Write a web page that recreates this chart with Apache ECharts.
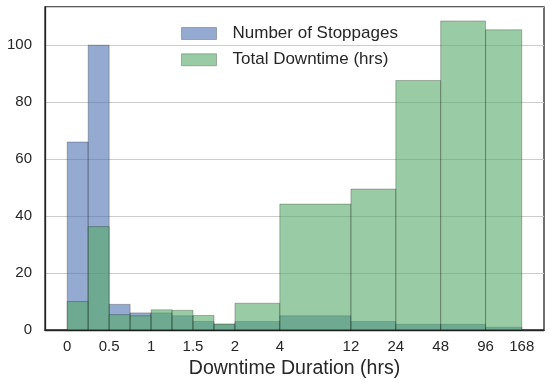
<!DOCTYPE html>
<html>
<head>
<meta charset="utf-8">
<script src="https://cdn.jsdelivr.net/npm/echarts@6/dist/echarts.min.js"></script>
<style>
html,body{margin:0;padding:0;background:#fff;}
#chart{width:550px;height:384px;}
</style>
</head>
<body>
<div id="chart"></div>
<script>
// Bin edges in hours
const binEdges = [0, 0.25, 0.5, 0.75, 1, 1.25, 1.5, 1.75, 2, 4, 12, 24, 48, 96, 168];
// Number of stoppages per bin
const stoppages = [66, 100, 9, 6, 6, 5, 3, 2, 3, 5, 3, 2, 2, 1];
// Total downtime (hrs) per bin
const downtime = [10, 36.3, 5.4, 5, 7.1, 6.9, 5.1, 2.1, 9.4, 44.2, 49.5, 87.6, 108.5, 105.4];
// Tick positions (hours) and labels
const tickHours = [0, 0.5, 1, 1.5, 2, 4, 12, 24, 48, 96, 168];
const tickLabels = ['0', '0.5', '1', '1.5', '2', '4', '12', '24', '48', '96', '168'];
const seriesNames = ['Number of Stoppages', 'Total Downtime (hrs)'];

// Axis scale: linear up to 2 h, log2 beyond
function scaleHours(h) {
  return h <= 2 ? h * 2 : 4 + Math.log2(h / 2) * 1.07;
}

function binData(values) {
  return values.map((v, i) => [scaleHours(binEdges[i]), scaleHours(binEdges[i + 1]), v]);
}

const blueFill = 'rgba(76,114,176,0.6)';
const greenFill = 'rgba(85,168,104,0.6)';
const edge = 'rgba(0,0,0,0.25)';

function makeRender(fill) {
  return function (params, api) {
    const x0 = api.value(0), x1 = api.value(1), v = api.value(2);
    const p0 = api.coord([x0, v]);
    const p1 = api.coord([x1, 0]);
    return {
      type: 'rect',
      shape: { x: p0[0], y: p0[1], width: p1[0] - p0[0], height: p1[1] - p0[1] },
      style: { fill: fill, stroke: edge, lineWidth: 1 }
    };
  };
}

const tickPos = tickHours.map(scaleHours);
const chart = echarts.init(document.getElementById('chart'), null, { renderer: 'canvas' });
const font = 'Arial, "Liberation Sans", sans-serif';
chart.setOption({
  animation: false,
  backgroundColor: '#fff',
  textStyle: { fontFamily: font },
  grid: {
    left: 45, right: 6, top: 7, bottom: 53,
    show: true, borderColor: '#262626', borderWidth: 1.3, backgroundColor: 'transparent'
  },
  legend: {
    orient: 'vertical',
    left: 176, top: 20,
    itemWidth: 35, itemHeight: 12, itemGap: 9.3,
    textStyle: { fontSize: 17, color: '#262626', fontFamily: font, lineHeight: 17, padding: [0, 0, 0, 11] },
    data: [
      { name: seriesNames[0], icon: 'rect', itemStyle: { color: blueFill, borderColor: edge, borderWidth: 1 } },
      { name: seriesNames[1], icon: 'rect', itemStyle: { color: greenFill, borderColor: edge, borderWidth: 1 } }
    ]
  },
  xAxis: {
    type: 'value',
    min: -0.53, max: 11.37,
    name: 'Downtime Duration (hrs)',
    nameLocation: 'middle',
    nameGap: 29,
    nameTextStyle: { fontSize: 19.5, color: '#262626', fontFamily: font },
    axisLine: { show: true, onZero: false, lineStyle: { color: '#262626', width: 1.3 } },
    axisTick: { show: false },
    splitLine: { show: false },
    axisLabel: {
      customValues: tickPos,
      fontSize: 15, color: '#262626', margin: 9, fontFamily: font,
      formatter: function (v) {
        let best = 0, d = Infinity;
        tickPos.forEach((p, i) => { const dd = Math.abs(p - v); if (dd < d) { d = dd; best = i; } });
        return tickLabels[best];
      }
    }
  },
  yAxis: {
    type: 'value',
    min: 0, max: 113.4, interval: 20,
    axisLine: { show: true, onZero: false, lineStyle: { color: '#262626', width: 1.3 } },
    axisTick: { show: false },
    splitLine: { show: true, lineStyle: { color: '#cccccc', width: 1 } },
    axisLabel: {
      fontSize: 15, color: '#262626', margin: 13, fontFamily: font,
      formatter: function (v) { return (Math.abs(v % 20) < 1e-6) ? String(v) : ''; }
    }
  },
  series: [
    {
      name: seriesNames[0], type: 'custom',
      itemStyle: { color: blueFill },
      encode: { x: [0, 1], y: 2 },
      renderItem: makeRender(blueFill),
      data: binData(stoppages), z: 2
    },
    {
      name: seriesNames[1], type: 'custom',
      itemStyle: { color: greenFill },
      encode: { x: [0, 1], y: 2 },
      renderItem: makeRender(greenFill),
      data: binData(downtime), z: 3
    }
  ]
});
</script>
</body>
</html>
